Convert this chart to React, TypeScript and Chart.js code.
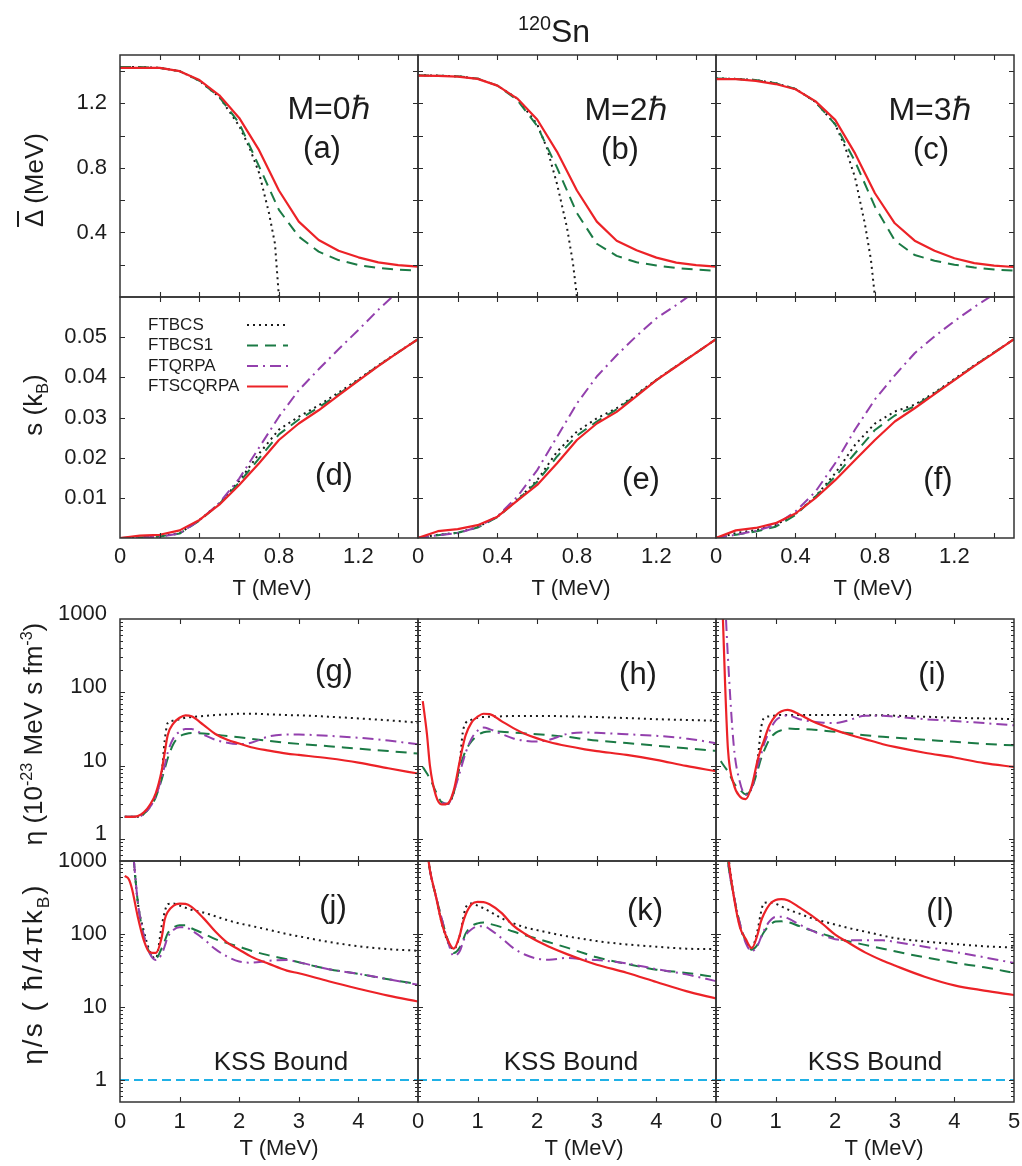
import React, { useEffect, useRef } from 'react';
import { Chart, registerables } from 'chart.js';

Chart.register(...registerables);

const FONT = "'Liberation Sans', Arial, Helvetica, sans-serif";
const INK = '#1c1c1c';

// ---------------- temperature grids (MeV) ----------------
const T_LOW = [0, 0.1, 0.2, 0.3, 0.4, 0.5, 0.6, 0.7, 0.8, 0.9, 1.0, 1.1, 1.2, 1.3, 1.4, 1.5];
const T_BCS_GAP = [0, 0.1, 0.2, 0.3, 0.4, 0.5, 0.6, 0.65, 0.7, 0.75, 0.78, 0.8];
const T_HIGH = [0.08, 0.15, 0.2, 0.3, 0.4, 0.5, 0.6, 0.7, 0.75, 0.8, 0.9, 1.0, 1.1, 1.2, 1.4, 1.6, 1.8, 2.0, 2.2, 2.5, 2.8, 3.0, 3.5, 4.0, 4.5, 5.0];
const T_KSS = [0, 5];

// ---------------- pairing gap (MeV) ----------------
const gapA_scqrpa = [1.42, 1.42, 1.42, 1.40, 1.345, 1.25, 1.11, 0.91, 0.66, 0.467, 0.353, 0.287, 0.246, 0.215, 0.198, 0.188];
const gapA_bcs1 = [1.425, 1.425, 1.42, 1.40, 1.34, 1.24, 1.077, 0.81, 0.54, 0.374, 0.281, 0.229, 0.198, 0.18, 0.17, 0.163];
const gapA_bcs = [1.425, 1.425, 1.42, 1.40, 1.34, 1.24, 1.06, 0.93, 0.77, 0.52, 0.33, 0.0];

const gapB_scqrpa = [1.372, 1.37, 1.366, 1.352, 1.31, 1.23, 1.10, 0.90, 0.66, 0.467, 0.349, 0.29, 0.244, 0.213, 0.198, 0.188];
const gapB_bcs1 = [1.375, 1.372, 1.368, 1.354, 1.31, 1.22, 1.06, 0.80, 0.52, 0.33, 0.255, 0.215, 0.195, 0.18, 0.17, 0.163];
const gapB_bcs = [1.375, 1.372, 1.368, 1.354, 1.31, 1.23, 1.07, 0.92, 0.70, 0.43, 0.21, 0.0];

const gapC_scqrpa = [1.35, 1.35, 1.34, 1.32, 1.288, 1.214, 1.098, 0.89, 0.643, 0.457, 0.349, 0.287, 0.24, 0.21, 0.195, 0.186];
const gapC_bcs1 = [1.355, 1.352, 1.345, 1.325, 1.29, 1.21, 1.07, 0.84, 0.56, 0.35, 0.26, 0.225, 0.2, 0.183, 0.17, 0.163];
const gapC_bcs = [1.355, 1.352, 1.345, 1.325, 1.29, 1.21, 1.07, 0.93, 0.74, 0.45, 0.23, 0.0];

// ---------------- entropy (k_B) ----------------
const sD_scqrpa = [0, 0.0006, 0.0008, 0.0019, 0.0045, 0.0083, 0.0132, 0.0186, 0.0244, 0.0285, 0.0318, 0.0355, 0.0392, 0.0428, 0.0462, 0.0495];
const sD_bcs = [0, 0.0001, 0.0004, 0.0012, 0.0045, 0.0086, 0.0142, 0.021, 0.027, 0.0302, 0.033, 0.0362, 0.0395, 0.043, 0.0463, 0.0495];
const sD_bcs1 = [0, 0.0001, 0.0004, 0.0011, 0.0043, 0.0085, 0.0138, 0.0198, 0.0258, 0.0295, 0.0325, 0.0358, 0.0393, 0.0429, 0.0462, 0.0495];
const sD_qrpa = [0, 0.0001, 0.0003, 0.0011, 0.0044, 0.0087, 0.0148, 0.0225, 0.0302, 0.0368, 0.042, 0.047, 0.0518, 0.0568, 0.0614, 0.066];

const sE_scqrpa = [0, 0.0017, 0.0022, 0.0032, 0.0053, 0.0093, 0.0132, 0.0186, 0.0244, 0.0285, 0.0314, 0.0353, 0.0393, 0.0427, 0.0461, 0.0495];
const sE_bcs = [0, 0.0008, 0.0013, 0.0027, 0.0053, 0.0095, 0.0144, 0.0215, 0.0265, 0.0298, 0.0323, 0.0358, 0.0394, 0.0428, 0.0461, 0.0495];
const sE_bcs1 = [0, 0.0007, 0.0013, 0.0026, 0.0052, 0.0094, 0.014, 0.0203, 0.0255, 0.029, 0.032, 0.0356, 0.0393, 0.0428, 0.0461, 0.0495];
const sE_qrpa = [0, 0.0007, 0.0012, 0.0027, 0.0054, 0.0103, 0.0169, 0.0252, 0.0335, 0.0402, 0.0455, 0.0503, 0.0547, 0.058, 0.0615, 0.065];

const sF_scqrpa = [0, 0.0019, 0.0025, 0.0037, 0.0061, 0.0099, 0.0144, 0.0194, 0.0244, 0.029, 0.0323, 0.0358, 0.0393, 0.0428, 0.0461, 0.0495];
const sF_bcs = [0, 0.0012, 0.002, 0.0032, 0.006, 0.0103, 0.0161, 0.0232, 0.0285, 0.0315, 0.0332, 0.0362, 0.0396, 0.043, 0.0462, 0.0495];
const sF_bcs1 = [0, 0.0008, 0.0016, 0.0028, 0.0057, 0.0103, 0.0153, 0.0211, 0.0269, 0.0305, 0.0328, 0.036, 0.0394, 0.0429, 0.0462, 0.0495];
const sF_qrpa = [0, 0.0008, 0.0018, 0.0032, 0.0066, 0.0115, 0.0186, 0.027, 0.0345, 0.0405, 0.046, 0.0502, 0.054, 0.0575, 0.0607, 0.064];

// ---------------- shear viscosity eta (1e-23 MeV s fm^-3) ----------------
const etaG_scqrpa = [2.0, 2.0, 2.0, 2.05, 2.3, 2.9, 4.2, 8.6, 15, 26, 38, 45, 48.5, 47, 36, 27, 22.5, 20, 17.8, 16, 14.6, 14, 12.6, 11, 9.2, 7.8];
const etaG_bcs = [2.0, 2.0, 2.0, 2.0, 2.2, 2.8, 4.0, 8.0, 22, 38, 41, 43, 45, 46, 47.5, 49, 50, 51, 51, 50, 49, 48.5, 46.5, 44, 41.5, 38.5];
const etaG_bcs1 = [2.0, 2.0, 2.0, 2.0, 2.2, 2.7, 3.7, 6.5, 9, 12.5, 20, 25, 27, 27.8, 27.5, 26.5, 25.3, 24.3, 23.2, 21.8, 20.5, 19.8, 18.4, 17, 15.8, 14.6];
const etaG_qrpa = [2.0, 2.0, 2.0, 2.0, 2.2, 2.7, 3.8, 7, 10, 15, 24, 29, 31.5, 31.5, 26.5, 22.5, 20.5, 19.6, 20.5, 25, 26.5, 26.5, 25.5, 24, 22, 19.5];

const etaH_scqrpa = [76, 27, 10, 3.9, 2.95, 3.05, 4.6, 11.5, 18, 26, 39, 46.5, 51, 50.5, 40.5, 32.5, 27, 23.5, 21, 18.5, 16.7, 15.8, 14, 12, 9.9, 8.4];
const etaH_bcs = [null, null, null, null, 3.15, 3.0, 4.3, 11, 28, 38, 42.5, 45, 46, 46.5, 47, 47.5, 47.5, 47.5, 47.5, 47, 46.5, 46, 44.5, 43, 42, 41];
const etaH_bcs1 = [9.6, 7.8, 6.7, 4.4, 3.15, 3.0, 4.3, 9.5, 12.5, 16, 21.5, 26, 28.5, 29.2, 29, 28.2, 27.5, 26.8, 26, 24.7, 23, 22, 20.3, 18.7, 17.2, 15.9];
const etaH_qrpa = [null, null, null, null, 3.1, 3.0, 4.4, 8, 11, 15, 23.5, 30, 33, 31.5, 27, 23.5, 21.8, 21.3, 22.5, 27, 28.3, 28, 26.8, 25.5, 23.5, 20.2];

const etaI_scqrpa = [8000, 150, 17, 5.5, 3.8, 3.5, 5.3, 12, 16.5, 21.5, 36, 48, 55, 57.5, 50, 41, 35, 30.5, 27, 23, 19.6, 18, 15, 12.9, 10.8, 9.6];
const etaI_bcs = [null, null, null, null, null, 4.0, 5.0, 12, 30, 44, 47, 48.5, 49, 49, 49, 49, 49, 49, 49, 48.8, 48.8, 48, 46.5, 45, 44, 43];
const etaI_bcs1 = [11.5, 9.5, 8.3, 5.8, 4.7, 4.05, 4.9, 8.7, 12, 15.5, 23, 28, 30.5, 32, 31.5, 31, 30, 29, 27.8, 26, 24.7, 24, 22.5, 21.2, 19.8, 18.9];
const etaI_qrpa = [null, 2000, 300, 18, 6, 4.0, 5.0, 10, 13.5, 19, 30, 41, 46.5, 48.5, 43, 40, 38.5, 38, 41, 47.8, 48, 46.5, 43, 40.5, 38, 35.5];

// ---------------- eta/s (hbar / 4 pi k_B) ----------------
const ratioJ_scqrpa = [624, 560, 420, 170, 82, 56, 55, 90, 158, 200, 245, 260, 258, 235, 165, 108, 76, 61, 49, 39, 31.5, 29, 22.5, 17.8, 14.3, 11.9];
const ratioJ_bcs = [null, null, 2000, 270, 110, 58, 46, 130, 200, 257, 261, 245, 229, 215, 197, 175, 155, 140, 129, 114, 100, 93, 78, 68, 62, 59];
const ratioJ_bcs1 = [null, null, 2000, 270, 95, 55, 46, 64, 80, 102, 123, 132, 132, 120, 102, 85, 75, 67, 59, 51, 45, 41, 33, 28.5, 24, 20.6];
const ratioJ_qrpa = [null, null, 2000, 270, 95, 54, 44, 53, 68, 90, 114, 124, 124, 112, 86, 62, 49, 42, 40.5, 43, 44, 41, 33, 28.5, 24, 20.2];

const ratioK_scqrpa = [null, 1500, 750, 330, 140, 82, 63, 95, 140, 185, 255, 275, 274, 255, 195, 130, 100, 80, 67, 53, 43, 38, 29.5, 22, 16.5, 13.1];
const ratioK_bcs = [null, 1500, 750, 330, 140, 78, 62, 95, 150, 230, 262, 245, 225, 204, 165, 140, 123, 113, 104, 93, 85, 80, 72, 67, 63, 62];
const ratioK_bcs1 = [null, 1500, 750, 330, 160, 83, 55, 65, 80, 102, 128, 140, 144, 138, 124, 108, 96, 86, 77, 65, 54, 48, 39, 32.5, 29.3, 25.7];
const ratioK_qrpa = [null, 1500, 750, 330, 160, 80, 50, 58, 75, 95, 116, 127, 128, 117, 88, 64, 52, 46, 44.5, 47, 45, 44, 39.5, 33, 28, 22.6];

const ratioL_scqrpa = [null, 3000, 1200, 320, 125, 85, 64, 100, 145, 185, 255, 292, 300, 290, 232, 180, 135, 98, 78, 56, 43, 37, 26, 19.8, 16.8, 14.6];
const ratioL_bcs = [null, 3000, 1300, 330, 130, 80, 65, 115, 190, 265, 270, 260, 238, 218, 190, 165, 148, 135, 122, 108, 95, 88, 79, 73, 68, 65];
const ratioL_bcs1 = [null, 3000, 1000, 330, 140, 80, 61, 72, 88, 105, 132, 148, 149, 146, 128, 112, 100, 88, 80, 71, 63, 58, 48, 40.5, 35, 29.4];
const ratioL_qrpa = [null, 3000, 1000, 330, 140, 75, 58, 70, 88, 110, 150, 172, 172, 165, 135, 112, 95, 85, 82, 82, 82, 78, 67, 57, 48, 40];

const KSS_BOUND = [1, 1];

// ---------------- ticks & labels ----------------
const X_LABELS_LOW = [0, 0.4, 0.8, 1.2];
const X_LABELS_HIGH = [0, 1, 2, 3, 4];
const X_LABELS_HIGH_LAST = [0, 1, 2, 3, 4, 5];
const Y_LABELS_GAP = [0.4, 0.8, 1.2];
const Y_LABELS_S = [0.01, 0.02, 0.03, 0.04, 0.05];
const Y_LABELS_LOG = [1, 10, 100, 1000];
const X_TICKS_LOW = [0.2, 0.4, 0.6, 0.8, 1.0, 1.2, 1.4];
const X_TICKS_HIGH = [1, 2, 3, 4];
const Y_TICKS_GAP = [0.2, 0.4, 0.6, 0.8, 1.0, 1.2, 1.4];
const Y_TICKS_S = [0.01, 0.02, 0.03, 0.04, 0.05];
const Y_TICKS_LOG_MAJOR = [1, 10, 100];
const LOG_MINOR_MULT = [2, 3, 4, 5, 6, 7, 8, 9];
const LEGEND_LABELS = ['FTBCS', 'FTBCS1', 'FTQRPA', 'FTSCQRPA'];

type Key = 'bcs' | 'bcs1' | 'qrpa' | 'scqrpa' | 'kss';
const LEGEND_KEYS: Key[] = ['bcs', 'bcs1', 'qrpa', 'scqrpa'];

const STYLE: Record<Key, { color: string; width: number; dash: number[] }> = {
  scqrpa: { color: '#ec2227', width: 2.2, dash: [] },
  qrpa: { color: '#9340ad', width: 2, dash: [11, 5, 2, 5] },
  bcs1: { color: '#1b7a45', width: 2, dash: [11, 7] },
  bcs: { color: '#1a1a1a', width: 2, dash: [2, 4] },
  kss: { color: '#1fb1e6', width: 2, dash: [9, 5] },
};

const COL_LEFT = [120, 418, 716];
const COL_W = 298;
const ROW_TOP = [55, 297, 619, 861];
const ROW_H = [242, 241, 242, 241];

interface Line { x: number[]; y: (number | null)[]; key: Key }
interface PanelDef { row: number; col: number; lines: Line[]; legend?: boolean }

const L = (x: number[], y: (number | null)[], key: Key): Line => ({ x, y, key });

const PANELS: PanelDef[] = [
  { row: 0, col: 0, lines: [L(T_LOW, gapA_scqrpa, 'scqrpa'), L(T_LOW, gapA_bcs1, 'bcs1'), L(T_BCS_GAP, gapA_bcs, 'bcs')] },
  { row: 0, col: 1, lines: [L(T_LOW, gapB_scqrpa, 'scqrpa'), L(T_LOW, gapB_bcs1, 'bcs1'), L(T_BCS_GAP, gapB_bcs, 'bcs')] },
  { row: 0, col: 2, lines: [L(T_LOW, gapC_scqrpa, 'scqrpa'), L(T_LOW, gapC_bcs1, 'bcs1'), L(T_BCS_GAP, gapC_bcs, 'bcs')] },
  { row: 1, col: 0, legend: true, lines: [L(T_LOW, sD_scqrpa, 'scqrpa'), L(T_LOW, sD_qrpa, 'qrpa'), L(T_LOW, sD_bcs1, 'bcs1'), L(T_LOW, sD_bcs, 'bcs')] },
  { row: 1, col: 1, lines: [L(T_LOW, sE_scqrpa, 'scqrpa'), L(T_LOW, sE_qrpa, 'qrpa'), L(T_LOW, sE_bcs1, 'bcs1'), L(T_LOW, sE_bcs, 'bcs')] },
  { row: 1, col: 2, lines: [L(T_LOW, sF_scqrpa, 'scqrpa'), L(T_LOW, sF_qrpa, 'qrpa'), L(T_LOW, sF_bcs1, 'bcs1'), L(T_LOW, sF_bcs, 'bcs')] },
  { row: 2, col: 0, lines: [L(T_HIGH, etaG_scqrpa, 'scqrpa'), L(T_HIGH, etaG_qrpa, 'qrpa'), L(T_HIGH, etaG_bcs1, 'bcs1'), L(T_HIGH, etaG_bcs, 'bcs')] },
  { row: 2, col: 1, lines: [L(T_HIGH, etaH_scqrpa, 'scqrpa'), L(T_HIGH, etaH_qrpa, 'qrpa'), L(T_HIGH, etaH_bcs1, 'bcs1'), L(T_HIGH, etaH_bcs, 'bcs')] },
  { row: 2, col: 2, lines: [L(T_HIGH, etaI_scqrpa, 'scqrpa'), L(T_HIGH, etaI_qrpa, 'qrpa'), L(T_HIGH, etaI_bcs1, 'bcs1'), L(T_HIGH, etaI_bcs, 'bcs')] },
  { row: 3, col: 0, lines: [L(T_HIGH, ratioJ_scqrpa, 'scqrpa'), L(T_HIGH, ratioJ_qrpa, 'qrpa'), L(T_HIGH, ratioJ_bcs1, 'bcs1'), L(T_HIGH, ratioJ_bcs, 'bcs'), L(T_KSS, KSS_BOUND, 'kss')] },
  { row: 3, col: 1, lines: [L(T_HIGH, ratioK_scqrpa, 'scqrpa'), L(T_HIGH, ratioK_qrpa, 'qrpa'), L(T_HIGH, ratioK_bcs1, 'bcs1'), L(T_HIGH, ratioK_bcs, 'bcs'), L(T_KSS, KSS_BOUND, 'kss')] },
  { row: 3, col: 2, lines: [L(T_HIGH, ratioL_scqrpa, 'scqrpa'), L(T_HIGH, ratioL_qrpa, 'qrpa'), L(T_HIGH, ratioL_bcs1, 'bcs1'), L(T_HIGH, ratioL_bcs, 'bcs'), L(T_KSS, KSS_BOUND, 'kss')] },
];

function makeFramePlugin(xTicks: number[], yMajor: number[], yMinor: number[]) {
  return {
    id: 'frame',
    afterDraw(chart: any) {
      const { ctx, chartArea } = chart;
      const { left, right, top, bottom } = chartArea;
      const xs = chart.scales.x;
      const ys = chart.scales.y;
      ctx.save();
      ctx.strokeStyle = '#2a2a2a';
      ctx.lineWidth = 1.1;
      ctx.beginPath();
      xTicks.forEach((v) => {
        const px = Math.round(xs.getPixelForValue(v)) + 0.5;
        ctx.moveTo(px, bottom); ctx.lineTo(px, bottom - 5);
        ctx.moveTo(px, top); ctx.lineTo(px, top + 5);
      });
      yMajor.forEach((v) => {
        const py = Math.round(ys.getPixelForValue(v)) + 0.5;
        ctx.moveTo(left, py); ctx.lineTo(left + 5, py);
        ctx.moveTo(right, py); ctx.lineTo(right - 5, py);
      });
      yMinor.forEach((v) => {
        const py = Math.round(ys.getPixelForValue(v)) + 0.5;
        ctx.moveTo(left, py); ctx.lineTo(left + 3, py);
        ctx.moveTo(right, py); ctx.lineTo(right - 3, py);
      });
      ctx.stroke();
      ctx.lineWidth = 1.5;
      ctx.strokeStyle = '#333';
      ctx.strokeRect(left, top, right - left, bottom - top);
      ctx.restore();
    },
  };
}

const legendPlugin = {
  id: 'inlegend',
  afterDraw(chart: any) {
    const { ctx, chartArea } = chart;
    const { left, top } = chartArea;
    ctx.save();
    LEGEND_LABELS.forEach((lab, i) => {
      const y = top + 28 + i * 20.5;
      ctx.font = `17px ${FONT}`;
      ctx.fillStyle = INK;
      ctx.textAlign = 'left';
      ctx.textBaseline = 'middle';
      ctx.fillText(lab, left + 28, y);
      const st = STYLE[LEGEND_KEYS[i]];
      ctx.strokeStyle = st.color;
      ctx.lineWidth = st.width;
      ctx.setLineDash(st.dash);
      ctx.beginPath();
      ctx.moveTo(left + 127, y);
      ctx.lineTo(left + 168, y);
      ctx.stroke();
    });
    ctx.restore();
  },
};

function fmtTick(v: number, kind: string) {
  if (kind === 'xlow') return v === 0 ? '0' : v.toFixed(1);
  if (kind === 'gap') return v.toFixed(1);
  if (kind === 's') return v.toFixed(2);
  return String(Math.round(v));
}

function Panel({ def }: { def: PanelDef }) {
  const ref = useRef<HTMLCanvasElement | null>(null);
  const { row, col } = def;
  const padL = col === 0 ? 100 : 24;
  const padR = 20;
  const padT = 32;
  const padB = row === 1 || row === 3 ? 46 : 32;
  const W = padL + COL_W + padR;
  const H = padT + ROW_H[row] + padB;

  useEffect(() => {
    const canvas = ref.current;
    if (!canvas) return;
    const isLog = row >= 2;
    const smooth = row >= 2;
    const datasets = def.lines.map((l) => {
      const data: { x: number; y: number }[] = [];
      l.x.forEach((xv, i) => {
        const yv = l.y[i];
        if (yv !== null && yv !== undefined) data.push({ x: xv, y: yv });
      });
      const st = STYLE[l.key];
      return {
        data,
        borderColor: st.color,
        borderWidth: st.width,
        borderDash: st.dash,
        pointRadius: 0,
        fill: false,
        tension: 0,
        cubicInterpolationMode: smooth && l.key !== 'kss' ? 'monotone' : 'default',
        borderJoinStyle: 'round',
      };
    });
    const xLabels = row === 1 ? X_LABELS_LOW : row === 3 ? (col === 2 ? X_LABELS_HIGH_LAST : X_LABELS_HIGH) : [];
    const yLabels = col === 0 ? [Y_LABELS_GAP, Y_LABELS_S, Y_LABELS_LOG, Y_LABELS_LOG][row] : [];
    const yKind = ['gap', 's', 'log', 'log'][row];
    const xKind = row < 2 ? 'xlow' : 'xhigh';
    const yMin = [0, 0, 0.5, 0.5][row];
    const yMax = [1.5, 0.06, 1000, 1000][row];
    const yMajor = row === 0 ? Y_TICKS_GAP : row === 1 ? Y_TICKS_S : Y_TICKS_LOG_MAJOR;
    const yMinor: number[] = [];
    if (isLog) {
      [0.1, 1, 10, 100].forEach((dec) => LOG_MINOR_MULT.forEach((m) => {
        const v = dec * m;
        if (v > yMin && v < yMax) yMinor.push(v);
      }));
    }
    const tickFont = { family: FONT, size: 22 };
    const chart = new Chart(canvas, {
      type: 'line',
      data: { datasets } as any,
      options: {
        responsive: false,
        animation: false,
        events: [],
        layout: { padding: { top: padT, right: padR, bottom: 0, left: 0 } },
        plugins: { legend: { display: false }, tooltip: { enabled: false } },
        scales: {
          x: {
            type: 'linear',
            min: 0,
            max: row < 2 ? 1.5 : 5,
            grid: { display: false, drawTicks: false },
            border: { display: false },
            ticks: {
              display: xLabels.length > 0,
              autoSkip: false,
              maxRotation: 0,
              minRotation: 0,
              padding: row === 1 ? 6 : 7,
              color: INK,
              font: tickFont,
              callback: (v: any) => fmtTick(Number(v), xKind),
            },
            afterBuildTicks: (s: any) => {
              s.ticks = (xLabels.length ? xLabels : [0]).map((v) => ({ value: v }));
            },
            afterFit: (s: any) => { s.height = padB; },
          },
          y: {
            type: isLog ? 'logarithmic' : 'linear',
            min: yMin,
            max: yMax,
            grid: { display: false, drawTicks: false },
            border: { display: false },
            ticks: {
              display: yLabels.length > 0,
              autoSkip: false,
              padding: 13,
              labelOffset: row === 2 ? -5 : 0,
              color: INK,
              font: tickFont,
              callback: (v: any) => fmtTick(Number(v), yKind),
            },
            afterBuildTicks: (s: any) => {
              s.ticks = (yLabels.length ? yLabels : [yMax]).map((v) => ({ value: v }));
            },
            afterFit: (s: any) => { s.width = padL; },
          },
        },
      } as any,
      plugins: def.legend
        ? [makeFramePlugin(row < 2 ? X_TICKS_LOW : X_TICKS_HIGH, yMajor, yMinor), legendPlugin]
        : [makeFramePlugin(row < 2 ? X_TICKS_LOW : X_TICKS_HIGH, yMajor, yMinor)],
    } as any);
    return () => chart.destroy();
  }, []);

  return (
    <canvas
      ref={ref}
      width={W}
      height={H}
      style={{ position: 'absolute', left: COL_LEFT[col] - padL, top: ROW_TOP[row] - padT, width: W, height: H }}
    />
  );
}

function Txt({ x, y, size, rotate, children, spacing }: { x: number; y: number; size: number; rotate?: boolean; spacing?: number; children: React.ReactNode }) {
  return (
    <div
      style={{
        position: 'absolute',
        left: x,
        top: y,
        transform: `translate(-50%, -50%)${rotate ? ' rotate(-90deg)' : ''}`,
        fontSize: size,
        fontFamily: FONT,
        lineHeight: 1,
        letterSpacing: spacing ? spacing : 'normal',
        whiteSpace: 'nowrap',
        color: INK,
      }}
    >
      {children}
    </div>
  );
}

const supStyle: React.CSSProperties = { fontSize: '0.62em', verticalAlign: 'super', lineHeight: 0 };
const subStyle: React.CSSProperties = { fontSize: '0.62em', verticalAlign: 'sub', lineHeight: 0 };

export default function App() {
  useEffect(() => {
    document.body.style.margin = '0';
  }, []);
  return (
    <div style={{ position: 'absolute', left: 0, top: 0, width: 1022, height: 1166, background: '#fff', overflow: 'hidden' }}>
      {PANELS.map((p) => (
        <Panel key={`${p.row}-${p.col}`} def={p} />
      ))}

      <Txt x={554} y={31} size={32}>
        <span style={supStyle}>120</span>Sn
      </Txt>

      <Txt x={34} y={180} size={26} rotate>
        <span style={{ textDecoration: 'overline' }}>Δ</span> (MeV)
      </Txt>
      <Txt x={33} y={405} size={26} rotate>
        s (k<span style={subStyle}>B</span>)
      </Txt>
      <Txt x={33} y={734} size={26} rotate>
        η (10<span style={supStyle}>-23</span> MeV s fm<span style={supStyle}>-3</span>)
      </Txt>
      <Txt x={33} y={974} size={28} rotate spacing={2}>
        η/s ( ħ/4πk<span style={subStyle}>B</span>)
      </Txt>

      <Txt x={272} y={588} size={22}>T (MeV)</Txt>
      <Txt x={571} y={588} size={22}>T (MeV)</Txt>
      <Txt x={873} y={588} size={22}>T (MeV)</Txt>
      <Txt x={279} y={1148} size={22}>T (MeV)</Txt>
      <Txt x={584} y={1148} size={22}>T (MeV)</Txt>
      <Txt x={884} y={1148} size={22}>T (MeV)</Txt>

      <Txt x={329} y={108} size={32}>M=0ℏ</Txt>
      <Txt x={626} y={109} size={32}>M=2ℏ</Txt>
      <Txt x={930} y={109} size={32}>M=3ℏ</Txt>
      <Txt x={322} y={147} size={31}>(a)</Txt>
      <Txt x={620} y={148} size={31}>(b)</Txt>
      <Txt x={931} y={148} size={31}>(c)</Txt>
      <Txt x={334} y={474} size={31}>(d)</Txt>
      <Txt x={641} y={478} size={31}>(e)</Txt>
      <Txt x={938} y={478} size={31}>(f)</Txt>
      <Txt x={334} y={670} size={31}>(g)</Txt>
      <Txt x={638} y={673} size={31}>(h)</Txt>
      <Txt x={932} y={673} size={31}>(i)</Txt>
      <Txt x={333} y={906} size={31}>(j)</Txt>
      <Txt x={645} y={909} size={31}>(k)</Txt>
      <Txt x={940} y={909} size={31}>(l)</Txt>

      <Txt x={281} y={1061} size={26}>KSS Bound</Txt>
      <Txt x={571} y={1061} size={26}>KSS Bound</Txt>
      <Txt x={875} y={1061} size={26}>KSS Bound</Txt>
    </div>
  );
}
